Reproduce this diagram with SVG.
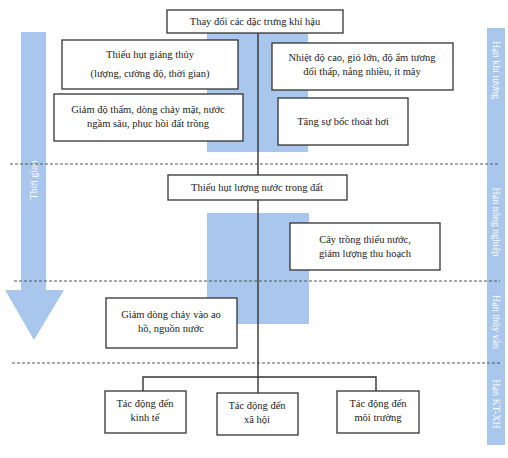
<svg xmlns="http://www.w3.org/2000/svg" width="508" height="458" viewBox="0 0 508 458">
<style>
.box{fill:#fff;stroke:#333;stroke-width:1.3}
.t{font-family:"Liberation Serif","Times New Roman",serif;font-size:10.5px;fill:#222;text-anchor:middle}
.band{fill:#a9c7ec}
.w{font-family:"Liberation Serif","Times New Roman",serif;font-size:10px;fill:#fff;text-anchor:middle}
.dash{stroke:#555;stroke-width:1.2;stroke-dasharray:3,2;fill:none}
.ln{stroke:#333;stroke-width:1.4;fill:none}
</style>
<rect width="508" height="458" fill="#fff"/>
<!-- background bands -->
<rect class="band" x="207" y="33" width="101" height="119"/>
<rect class="band" x="207" y="213" width="102" height="111"/>
<g id="time-arrow">
<path class="band" d="M21,32 H46 V290 H64 L34,340 L5,290 H21 Z"/>
<text class="w" transform="translate(37,180) rotate(-90)">Thời gian</text>
</g>
<g id="phase-band">
<rect class="band" x="487" y="28" width="18" height="417"/>
<text class="w" transform="translate(493,70) rotate(90)">Hạn khí tượng</text>
<text class="w" transform="translate(493,222) rotate(90)">Hạn nông nghiệp</text>
<text class="w" transform="translate(493,322) rotate(90)">Hạn thủy văn</text>
<text class="w" transform="translate(493,404) rotate(90)">Hạn KT-XH</text>
</g>
<g id="dividers">
<line class="dash" x1="10" y1="164" x2="500" y2="164"/>
<line class="dash" x1="14" y1="281" x2="500" y2="281"/>
<line class="dash" x1="12" y1="363" x2="500" y2="363"/>
</g>
<g id="connectors">
<line class="ln" x1="258" y1="33" x2="258" y2="377"/>
<polyline class="ln" points="143,391 143,377 376,377 376,391"/>
<line class="ln" x1="258" y1="377" x2="258" y2="393"/>
</g>
<g id="n-top">
<rect class="box" x="167" y="10" width="176" height="23"/>
<text class="t" x="255" y="25">Thay đổi các đặc trưng  khí hậu</text>
</g>
<g id="n-precip">
<rect class="box" x="62" y="40" width="176" height="49"/>
<text class="t" x="150" y="58">Thiếu hụt giáng thủy</text>
<text class="t" x="150" y="77">(lượng, cường độ, thời gian)</text>
</g>
<g id="n-infil">
<rect class="box" x="54" y="94" width="189" height="47"/>
<text class="t" x="148" y="113">Giảm độ thấm, dòng chảy mặt, nước</text>
<text class="t" x="148" y="127">ngầm sâu, phục hồi đất trồng</text>
</g>
<g id="n-temp">
<rect class="box" x="272" y="43" width="181" height="47"/>
<text class="t" x="362" y="61">Nhiệt độ cao, gió lớn, độ ẩm tương</text>
<text class="t" x="362" y="75">đối thấp, nắng nhiều, ít mây</text>
</g>
<g id="n-evap">
<rect class="box" x="278" y="98" width="130" height="47"/>
<text class="t" x="343" y="125">Tăng sự bốc thoát hơi</text>
</g>
<g id="n-soil">
<rect class="box" x="168" y="175" width="179" height="25"/>
<text class="t" x="257" y="191">Thiếu hụt lượng nước trong đất</text>
</g>
<g id="n-crop">
<rect class="box" x="290" y="223" width="150" height="47"/>
<text class="t" x="365" y="243">Cây trồng thiếu nước,</text>
<text class="t" x="365" y="257">giảm lượng thu hoạch</text>
</g>
<g id="n-flow">
<rect class="box" x="106" y="298" width="131" height="50"/>
<text class="t" x="171" y="318">Giảm dòng chảy vào ao</text>
<text class="t" x="171" y="332">hồ, nguồn nước</text>
</g>
<g id="n-econ">
<rect class="box" x="105" y="391" width="81" height="42"/>
<text class="t" x="145" y="407">Tác động đến</text>
<text class="t" x="145" y="421">kinh tế</text>
</g>
<g id="n-soc">
<rect class="box" x="217" y="393" width="81" height="42"/>
<text class="t" x="257" y="409">Tác động đến</text>
<text class="t" x="257" y="423">xã hội</text>
</g>
<g id="n-env">
<rect class="box" x="337" y="391" width="82" height="42"/>
<text class="t" x="378" y="407">Tác động đến</text>
<text class="t" x="378" y="421">môi trường</text>
</g>
</svg>
